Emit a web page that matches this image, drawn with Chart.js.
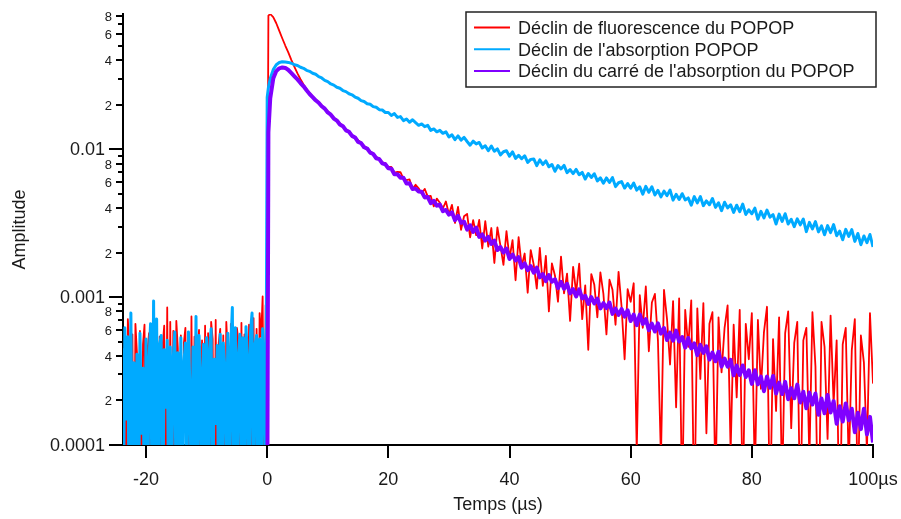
<!DOCTYPE html>
<html lang="fr">
<head>
<meta charset="utf-8">
<title>Déclin du POPOP</title>
<script src="https://cdn.jsdelivr.net/npm/chart.js@4.4.1/dist/chart.umd.min.js"></script>
<style>
    html, body { margin: 0; padding: 0; background: #fff; }
    #cadre { position: relative; width: 901px; height: 519px; }
</style>
</head>
<body>
<div id="cadre"><canvas id="graphique"></canvas></div>
<script>
/**
 * Déclins du POPOP (temps en µs)
 */

// Temps avant l'impulsion (pas de 0.25 µs)
const tempsAvant = [
    -24, -23.75, -23.5, -23.25, -23, -22.75, -22.5, -22.25,
    -22, -21.75, -21.5, -21.25, -21, -20.75, -20.5, -20.25,
    -20, -19.75, -19.5, -19.25, -19, -18.75, -18.5, -18.25,
    -18, -17.75, -17.5, -17.25, -17, -16.75, -16.5, -16.25,
    -16, -15.75, -15.5, -15.25, -15, -14.75, -14.5, -14.25,
    -14, -13.75, -13.5, -13.25, -13, -12.75, -12.5, -12.25,
    -12, -11.75, -11.5, -11.25, -11, -10.75, -10.5, -10.25,
    -10, -9.75, -9.5, -9.25, -9, -8.75, -8.5, -8.25,
    -8, -7.75, -7.5, -7.25, -7, -6.75, -6.5, -6.25,
    -6, -5.75, -5.5, -5.25, -5, -4.75, -4.5, -4.25,
    -4, -3.75, -3.5, -3.25, -3, -2.75, -2.5, -2.25,
    -2, -1.75, -1.5, -1.25, -1, -0.75, -0.5, -0.25
];

// Temps après l'impulsion (pas de 0.5 µs)
const tempsApres = [
    0, 0.2,
    0.5, 1, 1.5, 2, 2.5, 3, 3.5, 4, 4.5, 5,
    5.5, 6, 6.5, 7, 7.5, 8, 8.5, 9, 9.5, 10,
    10.5, 11, 11.5, 12, 12.5, 13, 13.5, 14, 14.5, 15,
    15.5, 16, 16.5, 17, 17.5, 18, 18.5, 19, 19.5, 20,
    20.5, 21, 21.5, 22, 22.5, 23, 23.5, 24, 24.5, 25,
    25.5, 26, 26.5, 27, 27.5, 28, 28.5, 29, 29.5, 30,
    30.5, 31, 31.5, 32, 32.5, 33, 33.5, 34, 34.5, 35,
    35.5, 36, 36.5, 37, 37.5, 38, 38.5, 39, 39.5, 40,
    40.5, 41, 41.5, 42, 42.5, 43, 43.5, 44, 44.5, 45,
    45.5, 46, 46.5, 47, 47.5, 48, 48.5, 49, 49.5, 50,
    50.5, 51, 51.5, 52, 52.5, 53, 53.5, 54, 54.5, 55,
    55.5, 56, 56.5, 57, 57.5, 58, 58.5, 59, 59.5, 60,
    60.5, 61, 61.5, 62, 62.5, 63, 63.5, 64, 64.5, 65,
    65.5, 66, 66.5, 67, 67.5, 68, 68.5, 69, 69.5, 70,
    70.5, 71, 71.5, 72, 72.5, 73, 73.5, 74, 74.5, 75,
    75.5, 76, 76.5, 77, 77.5, 78, 78.5, 79, 79.5, 80,
    80.5, 81, 81.5, 82, 82.5, 83, 83.5, 84, 84.5, 85,
    85.5, 86, 86.5, 87, 87.5, 88, 88.5, 89, 89.5, 90,
    90.5, 91, 91.5, 92, 92.5, 93, 93.5, 94, 94.5, 95,
    95.5, 96, 96.5, 97, 97.5, 98, 98.5, 99, 99.5, 100
];

// Fluorescence (rouge)
const fluoAvant = [
    3.9e-4, 2e-5, 5.1e-4, 3e-5, 7.1e-4, 4.4e-4, 2e-5, 5.6e-4,
    3e-5, 6.6e-4, 4.2e-4, 2e-5, 5.9e-4, 3e-5, 4.8e-4, 6.5e-4,
    2e-5, 4.4e-4, 5.7e-4, 3e-5, 5.2e-4, 2e-5, 6.1e-4, 3.8e-4,
    4e-5, 5.4e-4, 2e-5, 4.7e-4, 6.4e-4, 3e-5, 8.5e-4, 2e-5,
    6.8e-4, 4e-5, 5.9e-4, 3e-5, 6.9e-4, 4.5e-4, 2e-5, 5.5e-4,
    3e-5, 4.9e-4, 6.2e-4, 2e-5, 5.8e-4, 3e-5, 7.4e-4, 4e-5,
    5.4e-4, 2e-5, 4.6e-4, 6e-4, 3e-5, 5.1e-4, 2e-5, 6.4e-4,
    3e-5, 5.7e-4, 4e-5, 6.8e-4, 5.2e-4, 2e-5, 7e-4, 3e-5,
    4.9e-4, 6.1e-4, 2e-5, 5.5e-4, 3e-5, 6.8e-4, 4.1e-4, 2e-5,
    6.6e-4, 3e-5, 5.3e-4, 4e-5, 6.2e-4, 5e-4, 2e-5, 6.7e-4,
    3e-5, 5.6e-4, 4.4e-4, 2e-5, 6.5e-4, 3e-5, 5.9e-4, 7.2e-4,
    2e-5, 6.1e-4, 4e-5, 7.8e-4, 5.4e-4, 1.01e-3, 3e-5, 8.8e-4
];
const fluoApres = [
    9.5e-4, 0.080,
    0.082, 0.078, 0.071, 0.063, 0.056, 0.050, 0.045, 0.040, 0.036, 0.0325,
    0.0297, 0.0274, 0.0255, 0.0240, 0.0227, 0.0217, 0.0208, 0.0197, 0.0190, 0.0180,
    0.0172, 0.0163, 0.0158, 0.0149, 0.0144, 0.0136, 0.0132, 0.0124, 0.0121, 0.0115,
    0.0111, 0.0105, 0.0102, 0.00962, 0.00938, 0.00883, 0.00866, 0.00815, 0.00805, 0.00758,
    0.00758, 0.00694, 0.00701, 0.00699, 0.0063, 0.00617, 0.00624, 0.00539, 0.00575, 0.00544,
    0.00501, 0.00539, 0.00479, 0.00483, 0.0041, 0.00463, 0.00434, 0.00397, 0.00443, 0.00363,
    0.0042, 0.00317, 0.00407, 0.00285, 0.00352, 0.00365, 0.00253, 0.00331, 0.00262, 0.00332,
    0.00213, 0.00326, 0.00219, 0.00293, 0.0017, 0.00296, 0.00223, 0.00165, 0.00279, 0.00183,
    0.00243, 0.0013, 0.00254, 0.00162, 0.00197, 0.00107, 0.00208, 0.00165, 0.00114, 0.00215,
    0.00119, 0.0019, 8e-4, 0.00169, 0.0014, 9.3e-4, 0.00188, 0.00106, 0.00144, 6.9e-4,
    0.0016, 0.00107, 0.00168, 7.1e-4, 0.0012, 4.4e-4, 0.00143, 0.00121, 7.3e-4, 0.00147,
    0.00105, 5.6e-4, 0.00131, 0.00112, 6.5e-4, 0.00148, 8.6e-4, 3.8e-4, 0.00113, 9.3e-4,
    0.00124, 9e-5, 0.00103, 6.2e-4, 0.00118, 4.3e-4, 9.2e-4, 0.00105, 5.1e-4, 8e-5,
    0.00112, 7.1e-4, 3.5e-4, 9.4e-4, 1.8e-4, 9.8e-4, 4e-5, 8.2e-4, 4.6e-4, 9.5e-4,
    3e-5, 8.4e-4, 2.8e-4, 9.1e-4, 1.2e-4, 6.6e-4, 7.9e-4, 5e-5, 7.3e-4, 3.1e-4,
    6.2e-4, 8.8e-4, 9e-5, 6.5e-4, 2.1e-4, 8.2e-4, 4e-5, 6.6e-4, 3.8e-4, 7.8e-4,
    6e-5, 7e-4, 2.4e-4, 5.8e-4, 8.6e-4, 3e-5, 5.2e-4, 1.7e-4, 7.3e-4, 5e-5,
    5.7e-4, 8e-4, 1.3e-4, 4.9e-4, 6.8e-4, 3e-5, 5.1e-4, 6.2e-4, 8e-5, 7.9e-4,
    3.4e-4, 2e-5, 6.8e-4, 4.6e-4, 1.1e-4, 7.5e-4, 1.9e-4, 5.1e-4, 2e-5, 4.8e-4,
    6.2e-4, 7e-5, 4.4e-4, 7.1e-4, 4e-5, 5.5e-4, 3.6e-4, 9e-5, 7.8e-4, 2.6e-4
];

// Absorption (bleu)
const absAvant = [
    4.5e-4, 3e-5, 6.2e-4, 1.5e-4, 5.4e-4, 2e-5, 7.8e-4, 4e-5,
    3.6e-4, 5e-5, 4.1e-4, 2e-5, 5.7e-4, 1.2e-4, 3.3e-4, 3e-5,
    5.2e-4, 2e-5, 3.8e-4, 6.6e-4, 4e-5, 9.4e-4, 2e-5, 7.1e-4,
    3e-5, 4.8e-4, 5.5e-4, 2e-5, 4.4e-4, 1.8e-4, 5.1e-4, 3e-5,
    4.6e-4, 6e-5, 3.9e-4, 5.8e-4, 2e-5, 4.2e-4, 3e-5, 5.3e-4,
    2e-5, 3.6e-4, 4.9e-4, 5e-5, 5.8e-4, 2.4e-4, 3e-5, 4.6e-4,
    6e-5, 7.4e-4, 2e-5, 5.5e-4, 3.1e-4, 4e-5, 4.8e-4, 2e-5,
    5.3e-4, 3e-5, 4.4e-4, 6.1e-4, 2e-5, 3.8e-4, 1.4e-4, 4.7e-4,
    3e-5, 5.6e-4, 2e-5, 4.9e-4, 3.4e-4, 5e-5, 5.7e-4, 2e-5,
    4.5e-4, 8.5e-4, 3e-5, 6.2e-4, 2e-5, 4.1e-4, 5.6e-4, 4e-5,
    5.3e-4, 2e-5, 6.3e-4, 3.9e-4, 3e-5, 5.8e-4, 7.8e-4, 2e-5,
    4.8e-4, 5.5e-4, 3e-5, 5.2e-4, 2e-5, 6.1e-4, 3.5e-4, 4e-5
];
const absApres = [
    0.0224, 0.026,
    0.030, 0.0345, 0.0372, 0.0385, 0.039, 0.0389, 0.0386, 0.0381, 0.0372, 0.0368,
    0.0358, 0.0352, 0.0341, 0.0336, 0.0326, 0.0321, 0.0309, 0.0303, 0.0292, 0.0286,
    0.0276, 0.0271, 0.0262, 0.0258, 0.0249, 0.0245, 0.0237, 0.0233, 0.0225, 0.0221,
    0.0213, 0.021, 0.0203, 0.0201, 0.0194, 0.0192, 0.0185, 0.0184, 0.0177, 0.0177,
    0.0169, 0.0174, 0.0164, 0.0166, 0.0156, 0.016, 0.0152, 0.0158, 0.0151, 0.0145,
    0.0148, 0.0142, 0.0145, 0.0134, 0.0137, 0.0131, 0.0134, 0.0128, 0.0131, 0.0121,
    0.0125, 0.0116, 0.0123, 0.0115, 0.012, 0.01127, 0.01064, 0.01133, 0.01085, 0.0111,
    0.01019, 0.01054, 0.00976, 0.0105, 0.00968, 0.01004, 0.00915, 0.0096, 0.00976, 0.00897,
    0.00959, 0.00866, 0.00908, 0.00861, 0.00903, 0.00814, 0.00853, 0.00859, 0.00774, 0.00846,
    0.00787, 0.00833, 0.0076, 0.00788, 0.00709, 0.00775, 0.00735, 0.00777, 0.00694, 0.00727,
    0.00683, 0.0073, 0.00672, 0.00696, 0.00628, 0.00685, 0.00644, 0.00682, 0.0061, 0.0064,
    0.00589, 0.00639, 0.00595, 0.00642, 0.00558, 0.00593, 0.00604, 0.00546, 0.00585, 0.00545,
    0.0059, 0.00529, 0.00556, 0.00497, 0.0056, 0.00511, 0.00557, 0.0049, 0.00526, 0.00476,
    0.0052, 0.00485, 0.00529, 0.00452, 0.00495, 0.00457, 0.005, 0.00454, 0.00468, 0.00418,
    0.00478, 0.00433, 0.00478, 0.00415, 0.00447, 0.00421, 0.00464, 0.00404, 0.00434, 0.00384,
    0.00438, 0.00401, 0.00421, 0.00374, 0.00418, 0.00378, 0.00425, 0.00362, 0.00389, 0.00366,
    0.00399, 0.00336, 0.0038, 0.00343, 0.00387, 0.00347, 0.00361, 0.00312, 0.00364, 0.00325,
    0.00366, 0.00312, 0.00336, 0.00299, 0.00338, 0.00308, 0.00337, 0.00277, 0.0032, 0.00289,
    0.00324, 0.00276, 0.00303, 0.00264, 0.00304, 0.00273, 0.00309, 0.0026, 0.00279, 0.00244,
    0.00287, 0.00257, 0.00286, 0.00238, 0.00269, 0.00226, 0.00259, 0.00233, 0.00265, 0.00218
];

// Carré de l'absorption (violet), seulement après l'impulsion
const carreApres = [
    2e-5, 0.013,
    0.022, 0.030, 0.0337, 0.0352, 0.0357, 0.0354, 0.0343, 0.0327, 0.0311, 0.0296,
    0.028, 0.0266, 0.025, 0.0236, 0.0225, 0.0214, 0.0206, 0.0195, 0.0188, 0.0177,
    0.0171, 0.0161, 0.0156, 0.0147, 0.0143, 0.0134, 0.0131, 0.0123, 0.012, 0.0112,
    0.011, 0.0103, 0.0101, 0.00948, 0.00927, 0.00868, 0.00856, 0.00802, 0.00791, 0.00742,
    0.00738, 0.00676, 0.00678, 0.0064, 0.0064, 0.00586, 0.00588, 0.00538, 0.00541, 0.00518,
    0.00515, 0.00472, 0.00475, 0.00432, 0.00447, 0.00415, 0.00422, 0.00381, 0.00388, 0.00361,
    0.00374, 0.00331, 0.00354, 0.00318, 0.00323, 0.00286, 0.00306, 0.00276, 0.00295, 0.00255,
    0.00265, 0.00241, 0.00255, 0.00229, 0.00241, 0.00208, 0.00218, 0.002, 0.00213, 0.00181,
    0.00194, 0.00177, 0.00186, 0.00158, 0.00169, 0.00152, 0.00162, 0.00146, 0.00158, 0.00136,
    0.00143, 0.00128, 0.00141, 0.00127, 0.00132, 0.00115, 0.00127, 0.00114, 0.00123, 0.00106,
    0.00113, 0.00101, 0.00113, 9.8e-4, 0.00102, 9e-4, 0.001, 9.05e-4, 9.76e-4, 8.38e-4,
    9.1e-4, 8.42e-4, 9.19e-4, 7.7e-4, 8.37e-4, 7.58e-4, 8.3e-4, 7.38e-4, 8.15e-4, 6.89e-4,
    7.61e-4, 6.46e-4, 7.63e-4, 6.59e-4, 7.1e-4, 5.98e-4, 6.61e-4, 5.85e-4, 6.64e-4, 5.66e-4,
    6.18e-4, 5.13e-4, 5.75e-4, 5.08e-4, 5.93e-4, 5.01e-4, 5.37e-4, 4.55e-4, 5.29e-4, 4.5e-4,
    4.86e-4, 4.05e-4, 4.75e-4, 4.2e-4, 4.64e-4, 3.78e-4, 4.21e-4, 3.68e-4, 4.27e-4, 3.39e-4,
    3.84e-4, 3.39e-4, 3.76e-4, 2.96e-4, 3.44e-4, 2.97e-4, 3.45e-4, 2.88e-4, 3.2e-4, 2.59e-4,
    3.2e-4, 2.57e-4, 2.9e-4, 2.31e-4, 2.9e-4, 2.44e-4, 2.93e-4, 2.23e-4, 2.64e-4, 2.21e-4,
    2.67e-4, 2.04e-4, 2.42e-4, 2.07e-4, 2.56e-4, 1.94e-4, 2.29e-4, 1.77e-4, 2.26e-4, 1.88e-4,
    2.23e-4, 1.6e-4, 2.06e-4, 1.64e-4, 2.18e-4, 1.66e-4, 1.98e-4, 1.39e-4, 1.83e-4, 1.44e-4,
    1.91e-4, 1.47e-4, 1.76e-4, 1.22e-4, 1.65e-4, 1.28e-4, 1.76e-4, 1.18e-4, 1.55e-4, 1.04e-4
];

const nomsSeries = [
    'Déclin de fluorescence du POPOP',
    "Déclin de l'absorption POPOP",
    "Déclin du carré de l'absorption du POPOP"
];
const couleurs = ['#ff0000', '#00aaff', '#8000ff'];

// Graduations
const ticksX = [-20, 0, 20, 40, 60, 80, 100];
const etiquettesX = ['-20', '0', '20', '40', '60', '80', '100µs'];
const ticksY = [
    0.0001, 0.0002, 0.0003, 0.0004, 0.0005, 0.0006, 0.0007, 0.0008, 0.0009,
    0.001, 0.002, 0.003, 0.004, 0.005, 0.006, 0.007, 0.008, 0.009,
    0.01, 0.02, 0.03, 0.04, 0.05, 0.06, 0.07, 0.08
];
const etiquettesY = [
    '0.0001', '2', '', '4', '', '6', '', '8', '',
    '0.001', '2', '', '4', '', '6', '', '8', '',
    '0.01', '2', '', '4', '', '6', '', '8'
];

const police = '"Liberation Sans", Arial, sans-serif';

function points(temps, valeurs) {
    return valeurs.map((v, i) => ({ x: temps[i], y: v }));
}

/**
 * Graduations de l'axe Y (longueurs variables) et légende encadrée
 */
const axesEtLegende = {
    id: 'axesEtLegende',
    afterDraw(chart) {
        const ctx = chart.ctx;
        const echelleY = chart.scales.y;
        const gauche = chart.chartArea.left;

        ctx.save();
        ctx.strokeStyle = '#000';
        ctx.lineWidth = 2;
        ctx.fillStyle = '#1a1a1a';
        ctx.textAlign = 'right';
        ctx.textBaseline = 'middle';
        ticksY.forEach((v, i) => {
            const py = Math.round(echelleY.getPixelForValue(v));
            const lab = etiquettesY[i];
            const longueur = lab.length > 1 ? 14 : (lab ? 7 : 5);
            ctx.beginPath();
            ctx.moveTo(gauche - longueur, py);
            ctx.lineTo(gauche, py);
            ctx.stroke();
            if (lab) {
                ctx.font = (lab.length > 1 ? '18px ' : '13px ') + police;
                ctx.fillText(lab, gauche - longueur - 4, py + 1);
            }
        });

        // Légende
        ctx.fillStyle = '#fff';
        ctx.fillRect(466, 12, 410, 75);
        ctx.strokeStyle = '#222';
        ctx.lineWidth = 1.5;
        ctx.strokeRect(466, 12, 410, 75);
        ctx.font = '18px ' + police;
        ctx.textAlign = 'left';
        ctx.textBaseline = 'alphabetic';
        chart.data.datasets.forEach((ds, i) => {
            const base = 34 + i * 21.7;
            ctx.strokeStyle = ds.borderColor;
            ctx.lineWidth = 2;
            ctx.beginPath();
            ctx.moveTo(474, base - 6.5);
            ctx.lineTo(510, base - 6.5);
            ctx.stroke();
            ctx.fillStyle = '#1a1a1a';
            ctx.fillText(ds.label, 518, base);
        });
        ctx.restore();
    }
};

new Chart(document.getElementById('graphique'), {
    type: 'line',
    data: {
        datasets: [
            {
                label: nomsSeries[0],
                data: points(tempsAvant, fluoAvant).concat(points(tempsApres, fluoApres)),
                borderColor: couleurs[0],
                borderWidth: 1.8,
                order: 3
            },
            {
                label: nomsSeries[1],
                data: points(tempsAvant, absAvant).concat(points(tempsApres, absApres)),
                borderColor: couleurs[1],
                borderWidth: 3,
                order: 2
            },
            {
                label: nomsSeries[2],
                data: points(tempsApres, carreApres),
                borderColor: couleurs[2],
                borderWidth: 4,
                order: 1
            }
        ]
    },
    options: {
        animation: false,
        responsive: true,
        maintainAspectRatio: false,
        events: [],
        layout: { padding: { top: 14, right: 28, bottom: 0, left: 0 } },
        elements: {
            point: { radius: 0, hoverRadius: 0 },
            line: { tension: 0, borderJoinStyle: 'round', fill: false }
        },
        plugins: {
            legend: { display: false },
            tooltip: { enabled: false }
        },
        scales: {
            x: {
                type: 'linear',
                min: -23.8,
                max: 100,
                afterFit: s => { s.height = 74; },
                afterBuildTicks: s => { s.ticks = ticksX.map(v => ({ value: v })); },
                grid: { display: true, drawOnChartArea: false, drawTicks: true, tickLength: 13, lineWidth: 2, color: '#000' },
                border: { display: true, color: '#000', width: 2 },
                ticks: {
                    autoSkip: false,
                    maxRotation: 0,
                    padding: 0,
                    color: '#1a1a1a',
                    font: { family: police, size: 18, lineHeight: 2.4 },
                    callback: (v, i) => etiquettesX[i]
                },
                title: {
                    display: true,
                    text: 'Temps (µs)',
                    color: '#1a1a1a',
                    font: { family: police, size: 18 },
                    padding: { top: 0, bottom: 3 }
                }
            },
            y: {
                type: 'logarithmic',
                min: 0.0001,
                max: 0.082,
                afterFit: s => { s.width = 123; },
                afterBuildTicks: s => { s.ticks = ticksY.map(v => ({ value: v })); },
                grid: { display: false },
                border: { display: true, color: '#000', width: 2 },
                ticks: { display: false },
                title: {
                    display: true,
                    text: 'Amplitude',
                    color: '#1a1a1a',
                    font: { family: police, size: 18 },
                    padding: { top: 9, bottom: 0 }
                }
            }
        }
    },
    plugins: [axesEtLegende]
});
</script>
</body>
</html>
